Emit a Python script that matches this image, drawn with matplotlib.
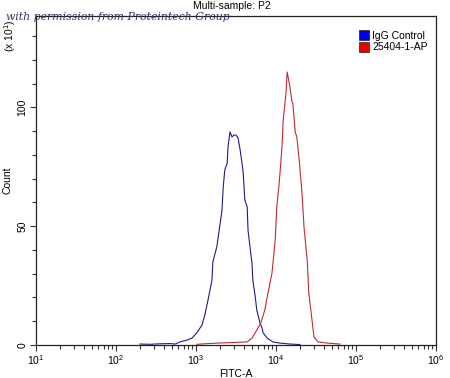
import matplotlib
matplotlib.use("Agg")
import matplotlib.pyplot as plt
from matplotlib.patches import Patch
from matplotlib.ticker import LogLocator, FixedLocator, NullFormatter, FixedFormatter
import numpy as np

plt.rcParams['font.family'] = ['Liberation Sans', 'DejaVu Sans']
plt.rcParams['mathtext.fontset'] = 'custom'
plt.rcParams['mathtext.rm'] = 'Liberation Sans'

# IgG Control histogram (log10 FITC-A, count)
igg_log = [2.30, 2.425, 2.55, 2.675, 2.74, 2.80, 2.89, 2.95, 3.01, 3.075, 3.11, 3.15,
           3.20, 3.21, 3.26, 3.29, 3.325, 3.34, 3.36, 3.39, 3.40, 3.425, 3.45, 3.475,
           3.50, 3.525, 3.55, 3.575, 3.59, 3.61, 3.64, 3.65, 3.675, 3.70, 3.71, 3.74,
           3.76, 3.80, 3.825, 3.84, 3.89, 3.925, 3.96, 4.05, 4.175, 4.30]
igg_count = [0.4, 0.3, 0.5, 0.6, 0.4, 1.3, 2.1, 2.9, 5.1, 8.4, 12.6, 18.9,
             27.4, 34.9, 41.3, 48.4, 56.8, 66.5, 73.7, 76.6, 83.4, 89.7, 87.6, 88.4,
             88.4, 87.2, 82.5, 76.6, 72.4, 61.1, 58.1, 48.4, 41.3, 34.5, 27.4, 20.4,
             14.7, 9.3, 7.2, 5.1, 2.9, 2.1, 1.3, 0.8, 0.4, 0.2]

# 25404-1-AP histogram (log10 FITC-A, count)
ab_log = [3.01, 3.26, 3.425, 3.55, 3.64, 3.70, 3.76, 3.81, 3.86, 3.90, 3.95, 3.99,
          4.01, 4.04, 4.075, 4.09, 4.125, 4.14, 4.175, 4.20, 4.21, 4.24, 4.26, 4.29,
          4.325, 4.35, 4.39, 4.41, 4.45, 4.475, 4.525, 4.64, 4.80]
ab_count = [0.3, 0.8, 1.0, 1.2, 1.3, 2.9, 6.3, 9.3, 14.7, 21.9, 30.3, 44.2,
            58.1, 68.2, 83.4, 94.7, 106.1, 114.9, 108.6, 102.3, 101.9, 89.7, 87.6, 77.9,
            64.0, 49.7, 35.8, 21.9, 10.5, 3.4, 1.3, 0.8, 0.4]

series_names = ["IgG Control", "25404-1-AP"]
line_colors = ["#1c1c8a", "#c4282e"]
legend_colors = ["#0000ee", "#ee0000"]
x_decades = [1, 2, 3, 4, 5, 6]
y_major = [0, 50, 100]

fig = plt.figure(figsize=(4.5, 3.78), dpi=100)
ax = fig.add_axes([36/450, 33/378, 400/450, 329/378])

ax.plot(10**np.array(igg_log), igg_count, color=line_colors[0], lw=0.8)
ax.plot(10**np.array(ab_log), ab_count, color=line_colors[1], lw=0.8)

ax.set_xscale('log')
ax.set_xlim(10**x_decades[0], 10**x_decades[-1])
ax.set_ylim(0, 138.5)

ax.xaxis.set_major_locator(FixedLocator([10**d for d in x_decades]))
ax.xaxis.set_major_formatter(FixedFormatter([r'$\mathregular{10^{%d}}$' % d for d in x_decades]))
ax.xaxis.set_minor_locator(LogLocator(base=10, subs=np.arange(2, 10), numticks=20))
ax.xaxis.set_minor_formatter(NullFormatter())

ax.yaxis.set_major_locator(FixedLocator(y_major))
ax.yaxis.set_minor_locator(FixedLocator(np.arange(0, 140, 10)))
ax.set_yticklabels([str(v) for v in y_major], rotation=90, va='center')

ax.tick_params(axis='both', which='major', direction='out', length=4, width=0.8,
               labelsize=7.5, color='#333333', pad=2)
ax.tick_params(axis='both', which='minor', direction='out', length=3, width=0.8,
               color='#333333')
for s in ax.spines.values():
    s.set_linewidth(0.9)
    s.set_color('#222222')

ax.set_xlabel('FITC-A', fontsize=7.5, labelpad=1)
ax.set_ylabel('Count', fontsize=7.5, labelpad=4)

fig.text(232/450, 1 - 6/378, 'Multi-sample: P2', fontsize=7.5, ha='center', va='center')
fig.text(10/450, 1 - 36/378, r'(x $\mathregular{10^{1}}$)', fontsize=7.5, rotation=90,
         ha='center', va='center')
fig.text(6/450, 1 - 17/378, 'with permission from Proteintech Group', fontsize=7.8,
         family='DejaVu Serif', style='italic', color='#2b3560', ha='left', va='center')

handles = [Patch(facecolor=c, edgecolor='#222222', linewidth=0.5) for c in legend_colors]
leg = ax.legend(handles, series_names, loc='upper right', bbox_to_anchor=(0.995, 0.975),
                frameon=False, fontsize=7.5, handlelength=1.0, handleheight=1.0,
                handletextpad=0.3, labelspacing=0.15, borderaxespad=0.2)

fig.savefig('out.png', dpi=100)
